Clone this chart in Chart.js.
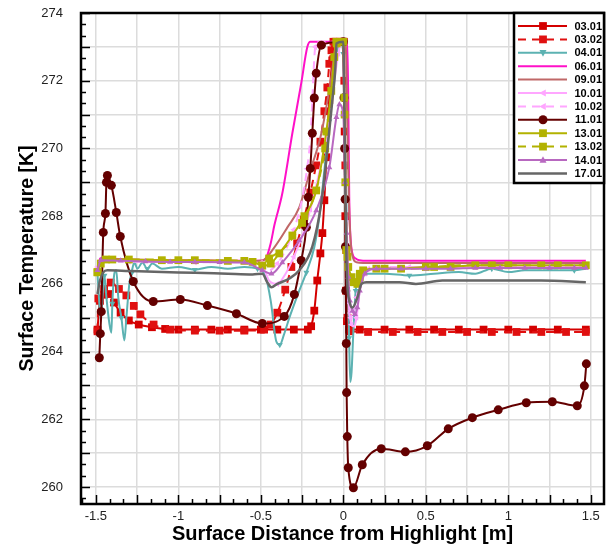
<!DOCTYPE html>
<html>
<head>
<meta charset="utf-8">
<script src="https://cdn.jsdelivr.net/npm/chart.js@4.4.0/dist/chart.umd.min.js"></script>
<style>
  html, body { margin: 0; padding: 0; background: #fff; }
  #wrap { width: 606px; height: 546px; }
</style>
</head>
<body>
<div id="wrap"><canvas id="chart" width="606" height="546"></canvas></div>
<script>
// series names (legend order)
const seriesLabels = ['03.01', '03.02', '04.01', '06.01', '09.01', '10.01', '10.02', '11.01', '13.01', '13.02', '14.01', '17.01'];

// surface distance [m] / surface temperature [K]
const x0301 = [-1.49, -1.475, -1.45, -1.42, -1.39, -1.35, -1.3, -1.24, -1.16, -1.08, -1.0, -0.9, -0.8, -0.7, -0.6, -0.5, -0.4, -0.3, -0.215, -0.195, -0.176, -0.158, -0.139, -0.127, -0.115, -0.103, -0.085, -0.067, -0.048, -0.02, 0.003, 0.008, 0.012, 0.016, 0.022, 0.035, 0.1, 0.25, 0.4, 0.55, 0.7, 0.85, 1.0, 1.15, 1.3, 1.47];
const t0301 = [264.65, 265.5, 265.68, 265.7, 265.45, 265.15, 264.92, 264.8, 264.72, 264.67, 264.65, 264.65, 264.65, 264.65, 264.65, 264.65, 264.65, 264.65, 264.65, 264.75, 265.21, 266.1, 266.9, 267.5, 268.47, 269.74, 271.43, 272.6, 273.15, 273.15, 273.15, 270.5, 268.0, 265.8, 264.9, 264.65, 264.65, 264.65, 264.65, 264.65, 264.65, 264.65, 264.65, 264.65, 264.65, 264.65];

const x0302 = [-1.49, -1.485, -1.45, -1.41, -1.36, -1.315, -1.27, -1.23, -1.15, -1.05, -0.9, -0.75, -0.6, -0.48, -0.44, -0.4, -0.352, -0.315, -0.28, -0.24, -0.2, -0.165, -0.139, -0.115, -0.097, -0.085, -0.072, -0.06, 0.0, 0.006, 0.012, 0.018, 0.025, 0.04, 0.15, 0.3, 0.45, 0.6, 0.75, 0.9, 1.05, 1.2, 1.35, 1.47];
const t0302 = [264.6, 265.57, 265.85, 266.04, 265.85, 265.66, 265.35, 265.1, 264.8, 264.65, 264.62, 264.62, 264.62, 264.65, 264.8, 265.15, 265.83, 266.5, 267.2, 267.9, 268.7, 269.5, 270.2, 271.1, 271.8, 272.5, 272.9, 273.15, 273.15, 272.0, 269.5, 267.0, 265.0, 264.6, 264.58, 264.58, 264.58, 264.58, 264.58, 264.58, 264.58, 264.58, 264.58, 264.58];

const x0401 = [-1.49, -1.48, -1.47, -1.46, -1.448, -1.436, -1.418, -1.406, -1.4, -1.388, -1.376, -1.364, -1.345, -1.327, -1.315, -1.297, -1.285, -1.267, -1.248, -1.218, -1.188, -1.158, -1.1, -1.0, -0.9, -0.8, -0.7, -0.6, -0.52, -0.47, -0.44, -0.406, -0.385, -0.36, -0.327, -0.267, -0.224, -0.176, -0.145, -0.115, -0.085, -0.055, -0.036, -0.018, 0.0, 0.01, 0.02, 0.028, 0.035, 0.042, 0.05, 0.06, 0.075, 0.1, 0.15, 0.25, 0.4, 0.55, 0.7, 0.8, 0.9, 1.0, 1.1, 1.25, 1.4, 1.47];
const t0401 = [266.3, 265.5, 264.9, 265.6, 266.25, 265.6, 264.83, 264.56, 265.42, 266.3, 266.4, 265.6, 265.0, 264.33, 265.0, 266.0, 266.3, 266.63, 266.45, 266.63, 266.45, 266.6, 266.45, 266.5, 266.42, 266.5, 266.45, 266.5, 266.45, 266.2, 265.5, 264.3, 264.2, 264.5, 265.0, 265.8, 266.34, 267.08, 268.0, 269.35, 270.8, 272.2, 272.9, 273.15, 272.8, 270.5, 268.0, 266.0, 264.4, 263.1, 263.4, 264.5, 265.8, 266.25, 266.3, 266.3, 266.25, 266.3, 266.35, 266.3, 266.45, 266.35, 266.4, 266.4, 266.4, 266.45];

const x0601 = [-1.49, -1.475, -1.45, -1.3, -1.1, -0.9, -0.7, -0.5, -0.47, -0.44, -0.418, -0.37, -0.309, -0.255, -0.218, -0.2, 0.0, 0.024, 0.03, 0.036, 0.042, 0.055, 0.075, 0.097, 0.15, 0.4, 0.7, 1.0, 1.3, 1.47];
const t0601 = [266.3, 266.75, 266.75, 266.72, 266.7, 266.7, 266.68, 266.68, 266.75, 267.2, 267.73, 268.67, 270.45, 271.93, 273.0, 273.15, 273.15, 273.15, 271.4, 268.5, 267.5, 266.9, 266.75, 266.7, 266.68, 266.68, 266.68, 266.68, 266.68, 266.68];

const x0901 = [-1.49, -1.475, -1.3, -1.0, -0.7, -0.491, -0.418, -0.339, -0.267, -0.206, -0.133, -0.073, -0.042, 0.0, 0.015, 0.025, 0.035, 0.045, 0.06, 0.08, 0.12, 0.3, 0.6, 0.9, 1.2, 1.47];
const t0901 = [266.3, 266.7, 266.68, 266.66, 266.65, 266.69, 267.08, 267.67, 268.26, 269.26, 270.45, 272.1, 273.1, 273.15, 273.0, 270.5, 268.3, 267.2, 266.75, 266.64, 266.62, 266.62, 266.62, 266.62, 266.62, 266.62];

const x1001 = [-1.49, -1.47, -1.3, -1.1, -0.9, -0.7, -0.5, -0.45, -0.4, -0.35, -0.3, -0.25, -0.2, -0.15, -0.1, -0.06, -0.03, -0.01, 0.005, 0.015, 0.025, 0.035, 0.05, 0.065, 0.08, 0.1, 0.13, 0.2, 0.4, 0.6, 0.8, 1.0, 1.2, 1.47];
const t1001 = [266.5, 266.7, 266.67, 266.66, 266.65, 266.65, 266.62, 266.1, 266.0, 266.3, 266.8, 267.4, 268.2, 269.2, 270.4, 271.8, 272.8, 273.15, 271.5, 268.5, 266.5, 265.3, 264.8, 264.75, 265.0, 265.8, 266.3, 266.45, 266.5, 266.5, 266.5, 266.5, 266.5, 266.5];

const x1002 = [-1.49, -1.47, -1.3, -1.1, -0.9, -0.7, -0.5, -0.45, -0.4, -0.35, -0.3, -0.25, -0.22, -0.2, -0.188, -0.18, -0.17, -0.15, 0.0, 0.01, 0.02, 0.03, 0.045, 0.06, 0.08, 0.11, 0.15, 0.3, 0.5, 0.7, 0.9, 1.1, 1.3, 1.47];
const t1002 = [266.4, 266.68, 266.66, 266.65, 266.64, 266.64, 266.6, 266.4, 266.6, 267.0, 267.6, 268.5, 269.4, 270.3, 271.4, 272.3, 273.0, 273.15, 273.15, 270.0, 267.0, 265.5, 265.0, 265.1, 265.6, 266.2, 266.45, 266.5, 266.5, 266.5, 266.5, 266.5, 266.5, 266.5];

const x1101 = [-1.479, -1.473, -1.467, -1.455, -1.442, -1.436, -1.43, -1.406, -1.376, -1.352, -1.273, -1.152, -0.988, -0.824, -0.648, -0.491, -0.358, -0.297, -0.255, -0.224, -0.212, -0.2, -0.188, -0.176, -0.164, -0.133, 0.0, 0.004, 0.008, 0.011, 0.013, 0.015, 0.018, 0.02, 0.024, 0.03, 0.061, 0.115, 0.23, 0.376, 0.509, 0.636, 0.782, 0.939, 1.109, 1.267, 1.418, 1.461, 1.473];
const t1101 = [263.82, 264.53, 265.18, 267.52, 268.08, 269.0, 269.2, 268.91, 268.11, 267.4, 266.07, 265.48, 265.54, 265.36, 265.12, 264.83, 265.04, 265.69, 266.69, 267.67, 268.56, 269.41, 270.45, 271.49, 272.22, 273.05, 273.15, 271.5, 270.0, 268.5, 267.1, 265.8, 264.24, 262.79, 261.49, 260.57, 259.98, 260.66, 261.13, 261.04, 261.22, 261.72, 262.05, 262.28, 262.49, 262.52, 262.4, 262.99, 263.64];

const x1301 = [-1.49, -1.47, -1.44, -1.3, -1.1, -0.9, -0.7, -0.55, -0.491, -0.44, -0.388, -0.309, -0.236, -0.164, -0.103, -0.073, -0.055, -0.042, 0.0, 0.006, 0.012, 0.018, 0.03, 0.05, 0.067, 0.085, 0.1, 0.12, 0.2, 0.35, 0.5, 0.65, 0.8, 1.0, 1.2, 1.47];
const t1301 = [266.34, 266.6, 266.72, 266.72, 266.7, 266.7, 266.68, 266.65, 266.54, 266.6, 266.9, 267.43, 268.0, 268.76, 270.5, 271.7, 272.7, 273.15, 273.15, 271.5, 269.0, 267.0, 266.5, 266.2, 266.05, 266.0, 266.2, 266.4, 266.45, 266.45, 266.5, 266.5, 266.55, 266.55, 266.55, 266.55];

const x1302 = [-1.49, -1.47, -1.4, -1.2, -1.0, -0.8, -0.6, -0.48, -0.45, -0.35, -0.25, -0.17, -0.11, -0.07, -0.04, 0.0, 0.008, 0.015, 0.025, 0.04, 0.06, 0.08, 0.1, 0.13, 0.25, 0.4, 0.55, 0.7, 0.9, 1.1, 1.3, 1.47];
const t1302 = [266.35, 266.65, 266.72, 266.72, 266.7, 266.7, 266.68, 266.62, 266.75, 267.1, 267.8, 268.7, 270.0, 271.6, 273.1, 273.15, 271.0, 268.5, 266.8, 266.3, 266.05, 266.1, 266.3, 266.45, 266.45, 266.45, 266.5, 266.55, 266.55, 266.55, 266.55, 266.55];

const x1401 = [-1.49, -1.47, -1.35, -1.2, -1.05, -0.9, -0.75, -0.6, -0.491, -0.436, -0.37, -0.267, -0.164, -0.085, -0.042, -0.024, 0.0, 0.01, 0.02, 0.03, 0.04, 0.055, 0.07, 0.085, 0.1, 0.13, 0.2, 0.35, 0.5, 0.65, 0.8, 0.95, 1.1, 1.25, 1.4, 1.47];
const t1401 = [266.4, 266.7, 266.68, 266.66, 266.65, 266.65, 266.64, 266.63, 266.4, 266.3, 266.63, 267.28, 268.17, 269.44, 270.92, 271.3, 271.0, 269.0, 267.5, 266.2, 265.5, 265.2, 265.1, 265.3, 265.8, 266.3, 266.45, 266.45, 266.45, 266.45, 266.47, 266.47, 266.47, 266.47, 266.47, 266.47];

const x1701 = [-1.49, -1.475, -1.455, -1.43, -1.3, -1.1, -0.9, -0.7, -0.55, -0.491, -0.46, -0.436, -0.4, -0.327, -0.267, -0.188, -0.133, -0.097, -0.067, -0.048, -0.042, 0.0, 0.006, 0.012, 0.018, 0.024, 0.036, 0.055, 0.085, 0.11, 0.14, 0.34, 0.44, 0.6, 0.8, 1.0, 1.2, 1.47];
const t1701 = [265.7, 266.1, 266.34, 266.4, 266.38, 266.35, 266.33, 266.3, 266.28, 266.3, 266.04, 265.9, 266.0, 266.16, 266.4, 267.1, 268.4, 269.94, 271.4, 272.4, 273.1, 273.15, 271.5, 269.0, 267.0, 266.0, 265.5, 265.3, 265.6, 266.0, 266.05, 266.05, 266.0, 266.1, 266.1, 266.1, 266.1, 266.05];

// axis ranges
const xMin = -1.59, xMax = 1.58;
const yMin = 259.5, yMax = 274;

function pts(xs, ys) {
  return xs.map((x, i) => ({ x: x, y: ys[i] }));
}

// look of each series: colour, dash, marker, size, rotation, marker every n points
const looks = {
  '03.01': { c: '#d40000', dash: [], m: 'rect', r: 5.5, rot: 0, every: 1 },
  '03.02': { c: '#e01010', dash: [8, 6], m: 'rect', r: 5.5, rot: 0, every: 1 },
  '04.01': { c: '#5cb2b2', dash: [], m: 'triangle', r: 3.5, rot: 180, every: 4 },
  '06.01': { c: '#ff10c8', dash: [], m: false, r: 0, rot: 0, every: 1 },
  '09.01': { c: '#c06868', dash: [], m: false, r: 0, rot: 0, every: 1 },
  '10.01': { c: '#ffa6ff', dash: [], m: 'triangle', r: 3.5, rot: 270, every: 2 },
  '10.02': { c: '#ffa6ff', dash: [8, 6], m: 'triangle', r: 3.5, rot: 270, every: 2 },
  '11.01': { c: '#640000', dash: [], m: 'circle', r: 4.5, rot: 0, every: 1 },
  '13.01': { c: '#b2b200', dash: [], m: 'rect', r: 5.5, rot: 0, every: 1 },
  '13.02': { c: '#b2b200', dash: [8, 6], m: 'rect', r: 5.5, rot: 0, every: 2 },
  '14.01': { c: '#b868c0', dash: [], m: 'triangle', r: 3.5, rot: 0, every: 1 },
  '17.01': { c: '#666666', dash: [], m: false, r: 0, rot: 0, every: 1 }
};

const seriesData = [
  pts(x0301, t0301), pts(x0302, t0302), pts(x0401, t0401), pts(x0601, t0601),
  pts(x0901, t0901), pts(x1001, t1001), pts(x1002, t1002), pts(x1101, t1101),
  pts(x1301, t1301), pts(x1302, t1302), pts(x1401, t1401), pts(x1701, t1701)
];

// later series are drawn over earlier ones, as in the original plot
const datasets = seriesLabels.map((lab, i) => {
  const lk = looks[lab];
  return {
    label: lab,
    data: seriesData[i],
    borderColor: lk.c,
    backgroundColor: lk.c,
    borderWidth: lab === '17.01' ? 2.5 : 2,
    borderDash: lk.dash,
    cubicInterpolationMode: 'monotone',
    pointStyle: lk.m || 'circle',
    pointRotation: lk.rot,
    pointRadius: ctx => (lk.m && ctx.dataIndex % lk.every === 0) ? lk.r : 0,
    pointBorderWidth: 0,
    pointHoverRadius: 0,
    order: -i
  };
});

// black frame with inward ticks like the original plot
const framePlugin = {
  id: 'frame',
  afterDraw(chart) {
    const { ctx, chartArea: a, scales } = chart;
    const xs = scales.x, ys = scales.y;
    ctx.save();
    ctx.strokeStyle = '#000';
    ctx.lineWidth = 1.5;
    ctx.beginPath();
    for (let k = -3; k <= 45; k++) {
      const v = 260 + k / 3;
      if (v < yMin || v > yMax) continue;
      const py = Math.round(ys.getPixelForValue(v)) + 0.5;
      const len = k % 3 === 0 ? 9 : 5;
      ctx.moveTo(a.left, py);
      ctx.lineTo(a.left + len, py);
    }
    for (let k = -3; k <= 40; k++) {
      const v = -1.5 + k / 12;
      if (v < xMin || v > xMax) continue;
      const px = Math.round(xs.getPixelForValue(v)) + 0.5;
      const len = k % 3 === 0 ? 9 : 5;
      ctx.moveTo(px, a.bottom);
      ctx.lineTo(px, a.bottom - len);
    }
    ctx.stroke();
    ctx.lineWidth = 2.5;
    ctx.strokeRect(a.left, a.top, a.right - a.left, a.bottom - a.top);
    ctx.restore();
  }
};

function drawMarker(ctx, style, rot, x, y, r) {
  ctx.save();
  ctx.translate(x, y);
  ctx.rotate(rot * Math.PI / 180);
  ctx.beginPath();
  if (style === 'rect') {
    const s = r * Math.SQRT1_2;
    ctx.rect(-s, -s, 2 * s, 2 * s);
  } else if (style === 'circle') {
    ctx.arc(0, 0, r, 0, Math.PI * 2);
  } else {
    ctx.moveTo(0, -r * 1.1);
    ctx.lineTo(r, r * 0.8);
    ctx.lineTo(-r, r * 0.8);
    ctx.closePath();
  }
  ctx.fill();
  ctx.restore();
}

// boxed legend in the top right corner of the plot
const legendPlugin = {
  id: 'boxLegend',
  afterDraw(chart) {
    const { ctx, chartArea: a } = chart;
    const x0 = a.right - 90, y0 = a.top, w = 90, h = 170;
    ctx.save();
    ctx.fillStyle = '#fff';
    ctx.fillRect(x0, y0, w, h);
    ctx.strokeStyle = '#000';
    ctx.lineWidth = 2.5;
    ctx.strokeRect(x0, y0, w, h);
    ctx.font = 'bold 11px "Liberation Sans", Arial, sans-serif';
    ctx.textAlign = 'right';
    ctx.textBaseline = 'middle';
    seriesLabels.forEach((lab, i) => {
      const lk = looks[lab];
      const y = y0 + 13 + i * 13.4;
      ctx.strokeStyle = lk.c;
      ctx.fillStyle = lk.c;
      ctx.lineWidth = lab === '17.01' ? 2.5 : 2;
      ctx.setLineDash(lk.dash);
      ctx.beginPath();
      ctx.moveTo(x0 + 4, y);
      ctx.lineTo(x0 + 53, y);
      ctx.stroke();
      ctx.setLineDash([]);
      if (lk.m) drawMarker(ctx, lk.m, lk.rot, x0 + 29, y, lk.r);
      ctx.fillStyle = '#000';
      ctx.fillText(lab, x0 + 88, y + 0.5);
    });
    ctx.restore();
  }
};

const fontFam = '"Liberation Sans", Arial, sans-serif';

new Chart(document.getElementById('chart'), {
  type: 'line',
  data: { datasets: datasets },
  options: {
    responsive: false,
    animation: false,
    events: [],
    layout: { autoPadding: false, padding: { top: 13, right: 2, left: 0, bottom: 0 } },
    plugins: { legend: { display: false }, tooltip: { enabled: false } },
    scales: {
      x: {
        type: 'linear',
        min: xMin,
        max: xMax,
        afterFit: s => { s.height = 42; s.paddingLeft = 0; s.paddingRight = 0; },
        grid: { color: '#dcdcdc', lineWidth: 1.5, drawTicks: false },
        border: { display: false },
        ticks: {
          stepSize: 0.25,
          includeBounds: false,
          autoSkip: false,
          maxRotation: 0,
          padding: 5,
          color: '#222',
          font: { family: fontFam, size: 13 },
          callback: v => Math.abs(v * 2 - Math.round(v * 2)) < 1e-6 ? String(Math.round(v * 2) / 2) : ''
        },
        title: {
          display: true,
          text: 'Surface Distance from Highlight [m]',
          color: '#000',
          padding: { top: 0, bottom: 0 },
          font: { family: fontFam, size: 20, weight: 'bold' }
        }
      },
      y: {
        type: 'linear',
        min: yMin,
        max: yMax,
        afterFit: s => { s.width = 81; s.paddingTop = 0; s.paddingBottom = 0; },
        grid: { color: '#dcdcdc', lineWidth: 1.5, drawTicks: false },
        border: { display: false },
        ticks: {
          stepSize: 1,
          includeBounds: false,
          autoSkip: false,
          padding: 18,
          color: '#222',
          font: { family: fontFam, size: 13 },
          callback: v => (Math.round(v) % 2 === 0 ? String(Math.round(v)) : '')
        },
        title: {
          display: true,
          text: 'Surface Temperature [K]',
          color: '#000',
          padding: { top: 16, bottom: 0 },
          font: { family: fontFam, size: 19.5, weight: 'bold' }
        }
      }
    }
  },
  plugins: [framePlugin, legendPlugin]
});
</script>
</body>
</html>
